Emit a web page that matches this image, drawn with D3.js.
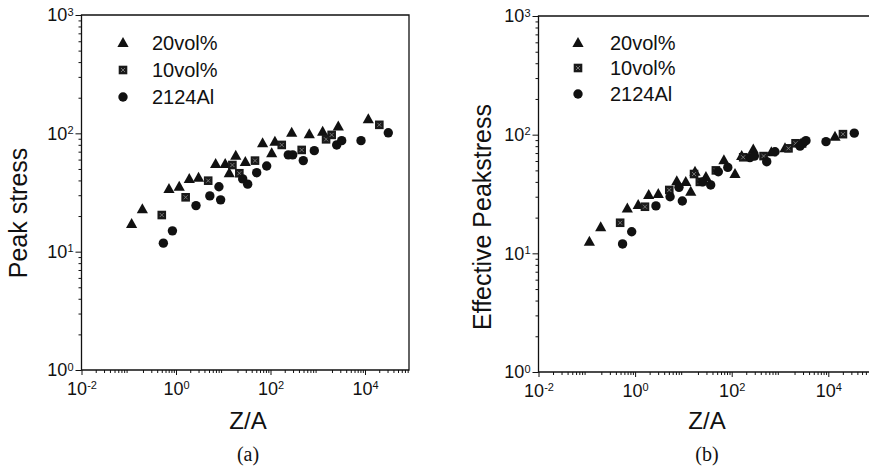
<!DOCTYPE html>
<html>
<head>
<meta charset="utf-8">
<script src="https://cdn.jsdelivr.net/npm/d3@7"></script>
<style>
  body { margin: 0; background: #fff; }
  svg { display: block; }
  text { font-family: "Liberation Sans", Arial, sans-serif; fill: #111; }
</style>
</head>
<body>
<svg id="chart" width="869" height="467"></svg>
<script>
const seriesNames = ["20vol%", "10vol%", "2124Al"];
const xTickExps = [-2, 0, 2, 4];
const yTickExps = [0, 1, 2, 3];

/* panel (a): peak stress vs Z/A, pairs of [Z/A, stress] */
const peakVol20 = [[0.115,17.1],[0.194,22.8],[0.71,33.9],[1.17,35.4],[1.91,41.2],[3.0,42.2],[6.9,55.1],[11,55.1],[13.4,46],[18.4,64.8],[29.3,57.3],[68,82.5],[106,68],[124,85],[281,101],[662,98],[1270,103],[2720,114],[11750,131.5]];
const peakVol10 = [[0.50,20.4],[1.6,28.8],[4.8,39.8],[15.6,54],[21.9,46],[47,58.8],[173,79.8],[457,72.4],[1500,89],[1970,97],[20100,118]];
const peakAl = [[0.54,11.8],[0.84,15],[2.65,24.5],[5.2,29.6],[8.1,35.4],[8.8,27.4],[25.8,41.2],[32.9,37.2],[51,46.5],[83,53],[238,65.7],[295,65.7],[494,58.8],[845,71.4],[2520,79.8],[3210,86.7],[8230,86.7],[31100,101]];

/* panel (b): effective peak stress vs Z/A */
const effVol20 = [[0.113,12.5],[0.194,16.6],[0.69,23.9],[1.16,25.5],[1.91,31],[3.02,31.6],[7.3,40.5],[11.2,40],[14.2,33],[17.4,48.7],[29.3,44],[69,61],[117,46.6],[161,66],[280,75],[662,71],[1270,77],[2720,84],[13770,96]];
const effVol10 = [[0.49,18.1],[1.6,24.7],[5.1,34.2],[16.6,46.6],[21.9,40],[47,50],[173,64.5],[457,66],[1500,76.7],[2100,84.6],[20100,101]];
const effAl = [[0.55,12],[0.85,15.2],[2.7,25.1],[5.3,30],[8.1,36],[9.5,27.6],[25,40],[36.7,37.7],[52.8,48.7],[83,53],[238,64],[295,66],[531,59.2],[787,71.8],[2600,80],[3030,85],[3450,89],[8960,87.3],[34500,103]];

const panels = [
  { series: [peakVol20, peakVol10, peakAl], yLabel: "Peak stress", caption: "(a)",
    x0: 81.5, x4: 365, right: 409, top: 15, bottom: 370,
    legendX: 123, legendY: [43, 70, 97], legendTextX: 152,
    yLabelX: 27, yLabelY: 213, centerX: 248 },
  { series: [effVol20, effVol10, effAl], yLabel: "Effective Peakstress", caption: "(b)",
    x0: 538.5, x4: 828.3, right: 900, top: 16, bottom: 372,
    legendX: 578, legendY: [43, 68, 94], legendTextX: 610,
    yLabelX: 491, yLabelY: 217, centerX: 707 }
];

const svg = d3.select("#chart");

/* marker shapes: triangle, crossed square, circle */
function drawMarker(g, kind, cx, cy) {
  if (kind === 0) {
    g.append("path")
      .attr("d", `M${cx},${cy - 6}L${cx + 5.6},${cy + 4}L${cx - 5.6},${cy + 4}Z`)
      .attr("fill", "#111");
  } else if (kind === 1) {
    g.append("rect")
      .attr("x", cx - 4.3).attr("y", cy - 4.3)
      .attr("width", 8.6).attr("height", 8.6)
      .attr("fill", "#1a1a1a");
    g.append("path")
      .attr("d", `M${cx - 2},${cy - 2}L${cx + 2},${cy + 2}M${cx + 2},${cy - 2}L${cx - 2},${cy + 2}`)
      .attr("stroke", "#888").attr("stroke-width", 0.8);
  } else {
    g.append("circle").attr("cx", cx).attr("cy", cy).attr("r", 4.7).attr("fill", "#111");
  }
}

function supLabel(sel) {
  sel.each(function(d) {
    const t = d3.select(this).text(null);
    const e = Math.round(Math.log10(d));
    t.append("tspan").text("10");
    t.append("tspan").attr("dy", "-0.5em").attr("font-size", 11).text(e < 0 ? "-" + (-e) : e);
  });
}

panels.forEach(p => {
  const x = d3.scaleLog().domain([1e-2, 1e4]).range([p.x0, p.x4]);
  const y = d3.scaleLog().domain([1, 1000]).range([p.bottom, p.top]);
  const g = svg.append("g");

  /* minor tick values */
  const xMinor = [], yMinor = [];
  for (let k = -2; k <= 5; k++) for (let m = 2; m <= 9; m++) {
    const v = m * Math.pow(10, k);
    if (x(v) < Math.min(p.right, 869)) xMinor.push(v);
  }
  for (let k = 0; k < 3; k++) for (let m = 2; m <= 9; m++) yMinor.push(m * Math.pow(10, k));

  const xMinorAxis = g.append("g")
    .attr("transform", `translate(0,${p.bottom})`)
    .call(d3.axisBottom(x).tickValues(xMinor).tickSize(3).tickFormat(""));
  const xMajorAxis = g.append("g")
    .attr("transform", `translate(0,${p.bottom})`)
    .call(d3.axisBottom(x).tickValues(xTickExps.map(e => Math.pow(10, e))).tickSize(5).tickPadding(7));
  const yMinorAxis = g.append("g")
    .attr("transform", `translate(${p.x0},0)`)
    .call(d3.axisLeft(y).tickValues(yMinor).tickSize(3).tickFormat(""));
  const yMajorAxis = g.append("g")
    .attr("transform", `translate(${p.x0},0)`)
    .call(d3.axisLeft(y).tickValues(yTickExps.map(e => Math.pow(10, e))).tickSize(6).tickPadding(2));

  [xMinorAxis, xMajorAxis, yMinorAxis, yMajorAxis].forEach(a => {
    a.select(".domain").remove();
    a.selectAll(".tick line").attr("stroke", "#111").attr("stroke-width", 1);
    a.selectAll(".tick text").attr("font-size", 18).attr("fill", "#111")
      .style("font-family", "'Liberation Sans', Arial, sans-serif");
  });
  xMajorAxis.selectAll(".tick text").call(supLabel);
  yMajorAxis.selectAll(".tick text").call(supLabel);

  /* frame */
  g.append("path")
    .attr("d", `M${p.x0},${p.top}V${p.bottom}H${p.right}V${p.top}Z`)
    .attr("fill", "none").attr("stroke", "#111").attr("stroke-width", 1.3);

  /* data points */
  const pts = g.append("g");
  p.series.forEach((s, i) => {
    s.forEach(d => drawMarker(pts, i, x(d[0]), y(d[1])));
  });

  /* legend */
  seriesNames.forEach((name, i) => {
    drawMarker(g, i, p.legendX, p.legendY[i]);
    g.append("text")
      .attr("x", p.legendTextX).attr("y", p.legendY[i] + 7)
      .attr("font-size", 20).text(name);
  });

  /* axis titles */
  g.append("text")
    .attr("transform", `translate(${p.yLabelX},${p.yLabelY}) rotate(-90)`)
    .attr("text-anchor", "middle").attr("font-size", 25).text(p.yLabel);
  g.append("text")
    .attr("x", p.centerX).attr("y", 429)
    .attr("text-anchor", "middle").attr("font-size", 24).text("Z/A");
  g.append("text")
    .attr("x", p.centerX).attr("y", 461)
    .attr("text-anchor", "middle").attr("font-size", 20)
    .style("font-family", "'Liberation Serif', 'Times New Roman', serif")
    .text(p.caption);
});
</script>
</body>
</html>
